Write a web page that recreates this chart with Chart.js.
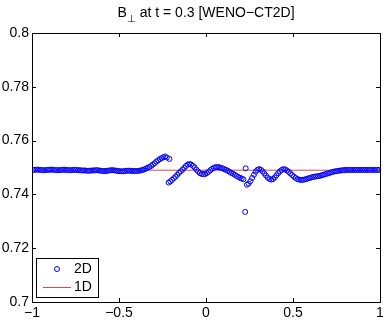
<!DOCTYPE html>
<html>
<head>
<meta charset="utf-8">
<script src="https://cdn.jsdelivr.net/npm/chart.js@4"></script>
<style>
  body { margin: 0; background: #fff; }
  #wrap { position: relative; width: 389px; height: 320px; }
  #title {
    position: absolute; left: 32px; width: 348px; top: 4px;
    text-align: center; font: 14px "Liberation Sans", Arial, sans-serif; color: #000;
  }
  #title sub { font-size: 10px; vertical-align: -5px; }
</style>
</head>
<body>
<div id="wrap">
  <canvas id="chart" width="389" height="320"></canvas>
  <div id="title">B<sub>⊥</sub> at t = 0.3 [WENO−CT2D]</div>
</div>
<script>
// 2D solution (points along the cut)
const xs2D = [
  -0.995, -0.985, -0.975, -0.965, -0.955, -0.945, -0.935, -0.925, -0.915, -0.905,
  -0.895, -0.885, -0.875, -0.865, -0.855, -0.845, -0.835, -0.825, -0.815, -0.805,
  -0.795, -0.785, -0.775, -0.765, -0.755, -0.745, -0.735, -0.725, -0.715, -0.705,
  -0.695, -0.685, -0.675, -0.665, -0.655, -0.645, -0.635, -0.625, -0.615, -0.605,
  -0.595, -0.585, -0.575, -0.565, -0.555, -0.545, -0.535, -0.525, -0.515, -0.505,
  -0.495, -0.485, -0.475, -0.465, -0.455, -0.445, -0.435, -0.425, -0.415, -0.405,
  -0.395, -0.385, -0.375, -0.365, -0.355,
  -0.345, -0.335, -0.325, -0.315, -0.305, -0.295, -0.285, -0.275, -0.265, -0.255,
  -0.245, -0.235, -0.225, -0.21,
  -0.215, -0.205, -0.195, -0.185, -0.175, -0.165, -0.155, -0.145, -0.135, -0.125,
  -0.115, -0.105, -0.095, -0.085, -0.075, -0.065, -0.055, -0.045, -0.035, -0.025,
  -0.015, -0.005, 0.005, 0.015, 0.025, 0.035, 0.045, 0.055, 0.065, 0.075,
  0.085, 0.095, 0.105, 0.115, 0.125, 0.135, 0.145, 0.155, 0.165, 0.175,
  0.185, 0.195, 0.205, 0.215,
  0.225, 0.228,
  0.235, 0.245, 0.255, 0.265, 0.275, 0.285, 0.295, 0.305, 0.315, 0.325,
  0.335, 0.345, 0.355, 0.365, 0.375, 0.385, 0.395, 0.405, 0.415, 0.425,
  0.435, 0.445, 0.455, 0.465, 0.475, 0.485, 0.495, 0.505, 0.515, 0.525,
  0.535, 0.545, 0.555, 0.565, 0.575, 0.585, 0.595, 0.605, 0.615, 0.625,
  0.635, 0.645, 0.655, 0.665, 0.675, 0.685, 0.695, 0.705, 0.715, 0.725,
  0.735, 0.745, 0.755, 0.765, 0.775, 0.785, 0.795,
  0.805, 0.815, 0.825, 0.835, 0.845, 0.855, 0.865, 0.875, 0.885, 0.895,
  0.905, 0.915, 0.925, 0.935, 0.945, 0.955, 0.965, 0.975, 0.985, 0.995
];
const ys2D = [
  0.7491, 0.7491, 0.7492, 0.7492, 0.7491, 0.7491, 0.7490, 0.7490, 0.7491, 0.7491,
  0.7492, 0.7492, 0.7491, 0.7491, 0.7490, 0.7490, 0.7491, 0.7491, 0.7492, 0.7491,
  0.7491, 0.7490, 0.7490, 0.7491, 0.7491, 0.7491, 0.7490, 0.7490, 0.7489, 0.7489,
  0.7489, 0.7488, 0.7488, 0.7488, 0.7489, 0.7489, 0.7490, 0.7490, 0.7489, 0.7488,
  0.7487, 0.7487, 0.7487, 0.7488, 0.7489, 0.7490, 0.7490, 0.7489, 0.7488, 0.7487,
  0.7486, 0.7486, 0.7486, 0.7487, 0.7488, 0.7488, 0.7488, 0.7487, 0.7487, 0.7487,
  0.7487, 0.7488, 0.7489, 0.7491, 0.7493,
  0.7496, 0.7499, 0.7502, 0.7506, 0.7511, 0.7516, 0.7522, 0.7527, 0.7531, 0.7535,
  0.7538, 0.7541, 0.7537, 0.7532,
  0.7444, 0.7448, 0.7454, 0.7460, 0.7466, 0.7473, 0.7480, 0.7486, 0.7492, 0.7499,
  0.7506, 0.7511, 0.7513, 0.7511, 0.7506, 0.7500, 0.7492, 0.7485, 0.7479, 0.7476,
  0.7475, 0.7476, 0.7479, 0.7484, 0.7490, 0.7495, 0.7499, 0.7501, 0.7502, 0.7501,
  0.7499, 0.7497, 0.7494, 0.7491, 0.7488, 0.7484, 0.7480, 0.7477, 0.7473, 0.7469,
  0.7465, 0.7462, 0.7459, 0.7456,
  0.7335, 0.7497,
  0.7436, 0.7440, 0.7449, 0.7461, 0.7473, 0.7484, 0.7491, 0.7494, 0.7492, 0.7486,
  0.7478, 0.7470, 0.7462, 0.7457, 0.7455, 0.7457, 0.7463, 0.7471, 0.7479, 0.7486,
  0.7491, 0.7494, 0.7493, 0.7489, 0.7484, 0.7478, 0.7472, 0.7466, 0.7461, 0.7457,
  0.7455, 0.7454, 0.7454, 0.7455, 0.7457, 0.7459, 0.7461, 0.7463, 0.7465, 0.7466,
  0.7467, 0.7468, 0.7469, 0.7471, 0.7473, 0.7475, 0.7477, 0.7479, 0.7481, 0.7483,
  0.7485, 0.7486, 0.7487, 0.7488, 0.7489, 0.7490, 0.7490,
  0.7491, 0.7491, 0.7491, 0.7491, 0.7491, 0.7491, 0.7491, 0.7491, 0.7491, 0.7491,
  0.7491, 0.7491, 0.7491, 0.7491, 0.7491, 0.7491, 0.7491, 0.7491, 0.7491, 0.7491
];

// 1D reference solution
const xs1D = [-1, 1];
const ys1D = [0.749, 0.749];

// axis ticks
const xTicks = [-1, -0.5, 0, 0.5, 1];
const yTicks = [0.7, 0.72, 0.74, 0.76, 0.78, 0.8];
const yTickLabels = ['0.7', '0.72', '0.74', '0.76', '0.78', '0.8'];

const FONT = '"Liberation Sans", Arial, sans-serif';

// MATLAB like box with inward ticks
const boxPlugin = {
  id: 'box',
  afterDraw(chart) {
    const ctx = chart.ctx;
    const a = chart.chartArea;
    const sx = chart.scales.x, sy = chart.scales.y;
    ctx.save();
    ctx.strokeStyle = '#000';
    ctx.lineWidth = 1;
    ctx.beginPath();
    xTicks.forEach(v => {
      const px = Math.round(sx.getPixelForValue(v)) + 0.5;
      ctx.moveTo(px, a.bottom); ctx.lineTo(px, a.bottom - 4);
      ctx.moveTo(px, a.top); ctx.lineTo(px, a.top + 4);
    });
    yTicks.forEach(v => {
      const py = Math.round(sy.getPixelForValue(v)) + 0.5;
      ctx.moveTo(a.left, py); ctx.lineTo(a.left + 4, py);
      ctx.moveTo(a.right, py); ctx.lineTo(a.right - 4, py);
    });
    ctx.stroke();
    ctx.strokeRect(Math.round(a.left) + 0.5, Math.round(a.top) + 0.5,
      Math.round(a.right - a.left), Math.round(a.bottom - a.top));

    // legend box in lower left
    const lx = 36, ly = 258, lw = 62, lh = 39;
    ctx.fillStyle = '#fff';
    ctx.fillRect(lx, ly, lw, lh);
    ctx.strokeRect(lx + 0.5, ly + 0.5, lw, lh);
    const d0 = chart.data.datasets[0], d1 = chart.data.datasets[1];
    ctx.strokeStyle = d0.borderColor;
    ctx.beginPath();
    ctx.arc(57, 269, 2.5, 0, Math.PI * 2);
    ctx.stroke();
    ctx.strokeStyle = d1.borderColor;
    ctx.beginPath();
    ctx.moveTo(43, 287.5); ctx.lineTo(71, 287.5);
    ctx.stroke();
    ctx.fillStyle = '#000';
    ctx.font = '14px ' + FONT;
    ctx.textBaseline = 'middle';
    ctx.textAlign = 'left';
    ctx.fillText(d0.label, 74, 269);
    ctx.fillText(d1.label, 74, 287);
    ctx.restore();
  }
};

new Chart(document.getElementById('chart'), {
  type: 'scatter',
  data: {
    datasets: [
      {
        label: '2D',
        data: xs2D.map((x, i) => ({ x: x, y: ys2D[i] })),
        showLine: false,
        pointStyle: 'circle',
        pointRadius: 2.5,
        borderWidth: 1,
        borderColor: '#0000ff',
        backgroundColor: 'rgba(0,0,0,0)',
        order: 1
      },
      {
        label: '1D',
        data: xs1D.map((x, i) => ({ x: x, y: ys1D[i] })),
        showLine: true,
        pointRadius: 0,
        borderWidth: 1,
        borderColor: '#e04848',
        order: 2
      }
    ]
  },
  options: {
    responsive: false,
    animation: false,
    devicePixelRatio: 1,
    layout: { padding: { top: 33, right: 9, left: 0, bottom: 0 } },
    plugins: { legend: { display: false }, tooltip: { enabled: false } },
    scales: {
      x: {
        min: -1, max: 1,
        afterBuildTicks: s => { s.ticks = xTicks.map(v => ({ value: v })); },
        afterFit: s => { s.height = 18; },
        grid: { display: false, drawTicks: false },
        border: { display: false },
        ticks: {
          padding: 3, color: '#000', font: { family: FONT, size: 14 },
          maxRotation: 0,
          callback: v => String(v).replace('-', '\u2212')
        }
      },
      y: {
        min: 0.7, max: 0.8,
        afterBuildTicks: s => { s.ticks = yTicks.map(v => ({ value: v })); },
        afterFit: s => { s.width = 32; },
        grid: { display: false, drawTicks: false },
        border: { display: false },
        ticks: {
          padding: 3, color: '#000', font: { family: FONT, size: 14 },
          callback: (v, i) => yTickLabels[i]
        }
      }
    }
  },
  plugins: [boxPlugin]
});
</script>
</body>
</html>
